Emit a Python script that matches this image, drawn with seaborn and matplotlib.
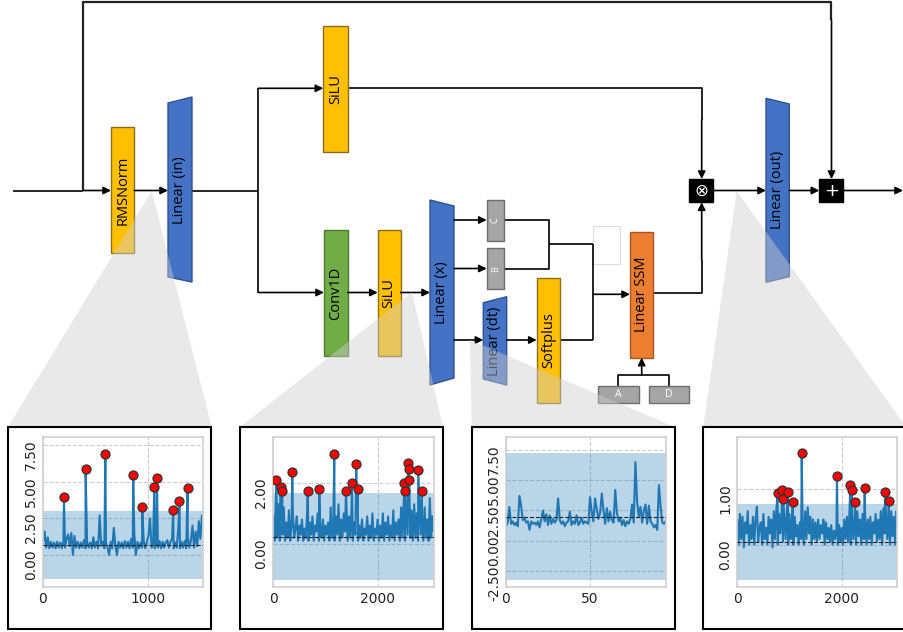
import numpy as np
import pandas as pd
import matplotlib
matplotlib.use("Agg")
import matplotlib.pyplot as plt
import seaborn as sns
from matplotlib.patches import Rectangle, Polygon
from matplotlib.ticker import FormatStrFormatter

# ---------------- data ----------------
# Inset 1 (after RMSNorm): base signal sampled every 15 steps + peaks
base1_step = 15
base1 = [0.9, 1.6, 0.5, 1.2, 0.45, 0.9, 0.5, 0.85, 0.45, 0.9,
         0.5, 0.85, 0.45, 0.95, 0.5, 1.1, 1.4, 0.6, 1.5, 0.0,
         1.3, 0.5, 0.9, 0.45, 0.85, 0.5, 1.0, 0.45, 0.9, 0.5,
         0.85, 0.45, 1.2, 0.5, 0.9, 0.45, 2.7, 0.6, 0.9, 0.45,
         0.85, 0.5, 0.0, 0.9, 0.45, 1.85, 0.6, 0.0, 0.9, 0.5,
         0.85, 0.45, 0.95, 0.5, 0.9, 0.45, 1.1, 0.5, 1.5, 0.0,
         0.9, 0.45, 0.85, 0.5, 0.95, 0.45, 0.9, 1.3, 2.5, 0.5,
         0.9, 0.45, 0.85, 0.5, 0.95, 0.45, 0.9, 0.5, 0.85, 1.0,
         0.5, 0.9, 1.1, 0.45, 0.85, 0.5, 1.9, 0.45, 0.9, 0.5,
         0.95, 0.45, 1.2, 0.5, 1.0, 2.0, 0.5, 1.6, 0.6, 2.3,
         1.1, 2.7]
peak1_x = [200, 406, 594, 860, 946, 1060, 1086, 1241, 1301, 1378]
peak1_y = [3.97, 5.87, 6.9, 5.43, 3.27, 4.61, 5.23, 3.08, 3.70, 4.54]
band1 = (-1.64, 3.0)
mean1 = 0.68

# Inset 2 (after SiLU): sampled every 25 steps + peaks
base2_step = 25
base2 = [0.9, 0.1, 1.5, 0.2, 1.3, 0.1, 0.8, 0.3, 1.2, 0.1,
         0.7, 0.2, 1.1, 0.1, 0.6, 1.0, 0.2, 0.5, 0.9, 0.1,
         0.6, 0.3, 0.8, 0.1, 0.5, 0.2, 1.1, 0.1, 0.7, 0.3,
         0.9, 0.1, 0.6, 0.4, 1.0, 0.1, 0.5, 0.2, 0.8, 0.1,
         0.6, 0.3, 0.7, 0.1, 1.2, 0.2, 0.6, 0.1, 0.9, 0.3,
         1.3, 0.1, 0.8, 0.2, 1.0, 0.4, 1.4, 0.1, 0.9, 0.2,
         1.2, 0.1, 0.7, 0.3, 1.0, 0.1, 0.6, 0.2, 0.8, 0.1,
         0.5, 0.3, 0.9, 0.1, 0.6, 0.2, 1.0, 0.1, 0.5, 0.3,
         0.8, 0.1, 0.6, 0.2, 1.0, 0.1, 0.7, 0.3, 0.9, 0.1,
         0.6, 0.2, 1.1, 0.1, 0.7, 0.3, 0.8, 0.1, 1.2, 0.2,
         1.4, 0.1, 1.0, 0.3, 1.5, 0.2, 1.1, 0.1, 1.3, 0.2,
         1.0, 0.1, 1.4, 0.3, 0.9, 0.1, 1.2, 0.2, 0.8, 0.1,
         1.5, 0.2, 0.9, 0.4]
peak2_x = [58, 141, 173, 364, 659, 881, 1169, 1393, 1508, 1590, 1617,
           2510, 2525, 2586, 2594, 2605, 2778, 2849]
peak2_y = [2.09, 1.86, 1.75, 2.36, 1.73, 1.81, 2.96, 1.75, 2.0, 2.62, 1.81,
           2.0, 1.75, 2.64, 2.47, 2.09, 2.44, 1.72]
band2 = (-1.2, 1.66)
mean2 = 0.23

# Inset 3 (dt path): one value per step
base3_step = 1
base3 = [1.2, 1.5, 2.8, 1.4, 1.6, 1.3, 1.5, 1.2, 3.7, 2.9,
         1.7, 1.9, 1.5, 1.6, 0.9, 1.6, 1.4, 1.5, 1.3, 1.6,
         1.1, 1.8, 2.5, 1.6, 2.2, 1.3, 2.1, 1.4, 1.8, 1.5,
         1.7, 3.5, 1.7, 1.4, 1.6, 1.2, 1.5, 1.6, 2.4, 1.3,
         1.6, 1.4, 2.1, 1.3, 1.5, 1.9, 1.4, 1.6, 1.5, 1.4,
         3.6, 2.4, 1.6, 3.5, 2.6, 1.8, 2.3, 3.9, 2.5, 1.4,
         2.7, 1.6, 2.4, 1.7, 1.5, 4.2, 2.3, 1.6, 1.9, 1.3,
         1.7, 1.2, 1.6, 1.4, 1.8, 3.0, 1.5, 6.5, 3.2, 2.0,
         2.8, 1.5, 2.5, 3.0, 1.4, 2.9, 1.6, 1.4, 1.1, 1.3,
         0.9, 4.6, 2.8, 1.5, 1.4, 1.6]
peak3_x = []
peak3_y = []
band3 = (-3.25, 7.25)
mean3 = 2.0

# Inset 4 (before Linear out): sampled every 25 steps + peaks
base4_step = 25
base4 = [0.45, 0.0, 0.55, 0.1, 0.5, -0.05, 0.4, 0.2, 0.6, 0.0,
         0.35, 0.1, 0.5, 0.0, 0.45, 0.68, 0.05, 0.3, 0.4, 0.0,
         0.55, 0.1, 0.3, 0.0, 0.5, 0.2, 0.45, -0.05, 0.6, 0.1,
         0.65, 0.0, 0.55, 0.2, 0.6, 0.05, 0.5, 0.1, 0.62, 0.0,
         0.55, 0.1, 0.45, 0.0, 0.5, 0.15, 0.35, 0.0, 0.4, 0.1,
         0.45, 0.0, 0.6, 0.1, 0.67, 0.2, 0.5, 0.0, 0.45, 0.1,
         0.4, 0.05, 0.45, 0.1, 0.35, 0.2, 0.45, 0.0, 0.4, 0.1,
         0.3, 0.05, 0.35, 0.0, 0.25, 0.1, 0.3, 0.0, 0.35, 0.05,
         0.3, 0.0, 0.45, 0.1, 0.5, 0.05, 0.6, 0.0, 0.55, 0.1,
         0.5, 0.0, 0.6, 0.15, 0.45, 0.0, 0.55, 0.1, 0.5, 0.0,
         0.45, 0.1, 0.5, 0.0, 0.4, 0.2, 0.55, 0.05, 0.45, 0.1,
         0.6, 0.0, 0.65, 0.2, 0.55, 0.1, 0.68, 0.0, 0.6, 0.15,
         0.5, 0.0, 0.6, 0.3]
peak4_x = [774, 862, 881, 971, 1061, 1234, 1910, 2165, 2192, 2255, 2441, 2830, 2900]
peak4_y = [0.92, 0.98, 0.81, 0.95, 0.76, 1.64, 1.23, 1.07, 0.98, 0.77, 1.01, 0.95, 0.78]
band4 = (-0.64, 0.72)
mean4 = 0.05

# ---------------- figure ----------------
sns.set_theme(style="whitegrid")
plt.rcParams["font.family"] = ["DejaVu Sans"]

W, H = 904, 632
fig = plt.figure(figsize=(W / 100, H / 100), dpi=100)
ax = fig.add_axes([0, 0, 1, 1])
ax.set_xlim(0, W)
ax.set_ylim(H, 0)
ax.axis("off")

LABEL_FONT = dict(family=["Open Sans", "DejaVu Sans"], fontsize=10.5, color="black")
LW = 1.2

YEL, YEL_E = "#FFC000", "#8C6D1F"
BLU, BLU_E = "#4472C4", "#2F528F"
GRN, GRN_E = "#70AD47", "#4E7A31"
ORG, ORG_E = "#ED7D31", "#A8561F"
GRY, GRY_E = "#A5A5A5", "#6E6E6E"


def line(xs, ys, lw=LW, color="black", z=2):
    ax.plot(xs, ys, color=color, lw=lw, zorder=z, solid_capstyle="butt")


def arrow(x0, y0, x1, y1):
    ax.annotate("", xy=(x1, y1), xytext=(x0, y0),
                arrowprops=dict(arrowstyle="-|>", color="black", lw=LW,
                                mutation_scale=11, shrinkA=0, shrinkB=0),
                zorder=3)


def box(x0, y0, x1, y1, fc, ec, text=None, rot=90, tcolor="black", fs=10.5, lw=1.0):
    ax.add_patch(Rectangle((x0, y0), x1 - x0, y1 - y0, facecolor=fc, edgecolor=ec,
                           lw=lw, zorder=3))
    if text:
        f = dict(LABEL_FONT)
        f.update(fontsize=fs, color=tcolor)
        ax.text((x0 + x1) / 2, (y0 + y1) / 2, text, rotation=rot, ha="center",
                va="center", zorder=4, **f)


def trap(xl, ylt, ylb, xr, yrt, yrb, text):
    ax.add_patch(Polygon([(xl, ylt), (xr, yrt), (xr, yrb), (xl, ylb)], closed=True,
                         facecolor=BLU, edgecolor=BLU_E, lw=1.0, zorder=3))
    ax.text((xl + xr) / 2, (ylt + ylb + yrt + yrb) / 4, text, rotation=90,
            ha="center", va="center", zorder=4, **LABEL_FONT)


Y0 = 190.5
# input and residual path
line([12.7, 82.7], [Y0, Y0])
arrow(82.7, Y0, 111, Y0)
line([82.7, 82.7, 831.5, 831.5], [Y0, 1.7, 1.7, 20], lw=1.6, color="#222222")
arrow(831.5, 20, 831.5, 179)

box(111, 127.3, 134.3, 253.3, YEL, YEL_E, "RMSNorm")
arrow(134.3, Y0, 168, Y0)
trap(168, 103, 277, 192, 97, 282, "Linear (in)")

# split
line([192, 258.5], [Y0, Y0])
line([258.5, 258.5], [88.3, 292.5])
arrow(258.5, 88.3, 323.3, 88.3)
arrow(258.5, 292.5, 324, 292.5)

box(323.3, 25.7, 347.7, 152.3, YEL, YEL_E, "SiLU")
line([347.7, 701.7, 701.7], [88.3, 88.3, 120])
arrow(701.7, 120, 701.7, 179)

box(324, 230, 347.7, 356, GRN, GRN_E, "Conv1D")
arrow(347.7, 292.5, 377.7, 292.5)
box(377.7, 230, 400.7, 356, YEL, YEL_E, "SiLU")
arrow(400.7, 292.5, 430, 292.5)
trap(430, 200, 385, 454, 206, 378, "Linear (x)")

arrow(454, 220, 486.7, 220)
arrow(454, 268.5, 486.7, 268.5)
arrow(454, 340, 483.3, 340)
box(486.7, 200, 504, 241, GRY, GRY_E, "C", tcolor="white", fs=6.5)
box(486.7, 248.3, 504, 289, GRY, GRY_E, "B", tcolor="white", fs=6.5)
trap(483.3, 302.7, 379, 506.7, 296.7, 385, "Linear (dt)")
arrow(506.7, 340, 536.7, 340)
box(536.7, 277.7, 560, 403.3, YEL, YEL_E, "Softplus")

line([504, 549, 549, 504], [220, 220, 268.5, 268.5])
line([549, 593.3], [244.3, 244.3])
line([593.3, 593.3], [244.3, 340])
line([560, 593.3], [340, 340])
arrow(593.3, 294.3, 630, 294.3)
ax.add_patch(Rectangle((593.3, 225.7), 26.7, 38.3, facecolor="white",
                       edgecolor="#dddddd", lw=0.8, zorder=1))

box(630, 231.7, 653.3, 357.7, ORG, ORG_E, "Linear SSM")
box(597.7, 385.7, 639, 403.3, GRY, GRY_E, "A", rot=0, tcolor="white", fs=7.5)
box(649, 385.7, 689.3, 403.3, GRY, GRY_E, "D", rot=0, tcolor="white", fs=7.5)
line([618.3, 618.3, 669.3, 669.3], [385.7, 375, 375, 385.7])
arrow(641.7, 375, 641.7, 357.7)

line([653.3, 701.7, 701.7], [293.3, 293.3, 260])
arrow(701.7, 260, 701.7, 202.3)

box(689.3, 179, 713.3, 202.3, "black", "black")
ax.text(701.3, 190.6, "\u2297", color="white", fontsize=12, ha="center", va="center",
        zorder=4, family=["DejaVu Sans"])
arrow(713.3, Y0, 766, Y0)
trap(766, 98.3, 282.3, 789.3, 104, 276.7, "Linear (out)")
arrow(789.3, Y0, 819.3, Y0)
box(819.3, 179, 843.3, 202.3, "black", "black")
ax.text(831.3, 190.6, "+", color="white", fontsize=13, ha="center", va="center",
        zorder=4, family=["DejaVu Sans"])
arrow(843.3, Y0, 903, Y0)

# zoom wedges
WEDGE = dict(facecolor="#CFCFCF", alpha=0.45, edgecolor="none", zorder=5)
ax.add_patch(Polygon([(151.7, 191), (8, 427), (211.7, 427)], **WEDGE))
ax.add_patch(Polygon([(412, 292), (240, 427), (443, 427)], **WEDGE))
ax.add_patch(Polygon([(470, 340), (471.7, 427), (675, 427)], **WEDGE))
ax.add_patch(Polygon([(736.7, 191), (703.3, 427), (906, 427)], **WEDGE))

# inset frames
for x0 in (8, 240, 471.7, 703.3):
    ax.add_patch(Rectangle((x0, 427), 203.5, 202, facecolor="white",
                           edgecolor="black", lw=1.5, zorder=6))


def inset(px0, px1, base, step, pkx, pky, band, mean, xlim, ylim, xticks, yticks):
    py0, py1 = 437, 587
    a = fig.add_axes([px0 / W, 1 - py1 / H, (px1 - px0) / W, (py1 - py0) / H])
    bx = np.arange(len(base)) * step
    df = pd.DataFrame({"x": np.concatenate([bx, np.array(pkx, dtype=float)]),
                       "y": np.concatenate([np.array(base, dtype=float),
                                            np.array(pky, dtype=float)])})
    df = df.sort_values("x").reset_index(drop=True)
    a.axhspan(band[0], band[1], color="#1f77b4", alpha=0.3, lw=0, zorder=1)
    sns.lineplot(data=df, x="x", y="y", ax=a, estimator=None, sort=True,
                 color="#1f77b4", lw=1.5, zorder=2)
    a.axhline(mean, color="#222222", ls="--", lw=0.8, zorder=3)
    out = df[df["y"] > band[1]]
    if len(out):
        sns.scatterplot(data=out, x="x", y="y", ax=a, color="red", edgecolor="#333333",
                        linewidth=0.9, s=42, zorder=4)
    a.set_xlim(*xlim)
    a.set_ylim(*ylim)
    a.set_xticks(xticks)
    a.set_yticks(yticks)
    a.yaxis.set_major_formatter(FormatStrFormatter("%.2f"))
    a.tick_params(axis="both", labelsize=10, colors="#222222", length=0)
    a.tick_params(axis="y", labelrotation=90)
    a.grid(True, ls="--", color="#cccccc", lw=0.8)
    a.set_xlabel("")
    a.set_ylabel("")
    a.set_facecolor("white")
    for s in a.spines.values():
        s.set_color("#d0d0d0")
        s.set_linewidth(1.2)
    return a


inset(43, 203, base1, base1_step, peak1_x, peak1_y, band1, mean1,
      (0, 1525), (-2.19, 8.05), [0, 1000], [0, 2.5, 5.0, 7.5])
inset(273.3, 434, base2, base2_step, peak2_x, peak2_y, band2, mean2,
      (0, 3080), (-1.42, 3.51), [0, 2000], [0, 2.0])
inset(506, 666, base3, base3_step, peak3_x, peak3_y, band3, mean3,
      (0, 95.2), (-3.83, 8.58), [0, 50], [-2.5, 0, 2.5, 5.0, 7.5])
inset(737.3, 897, base4, base4_step, peak4_x, peak4_y, band4, mean4,
      (0, 3060), (-0.76, 1.93), [0, 2000], [0, 1.0])

fig.savefig("out.png", dpi=100)
